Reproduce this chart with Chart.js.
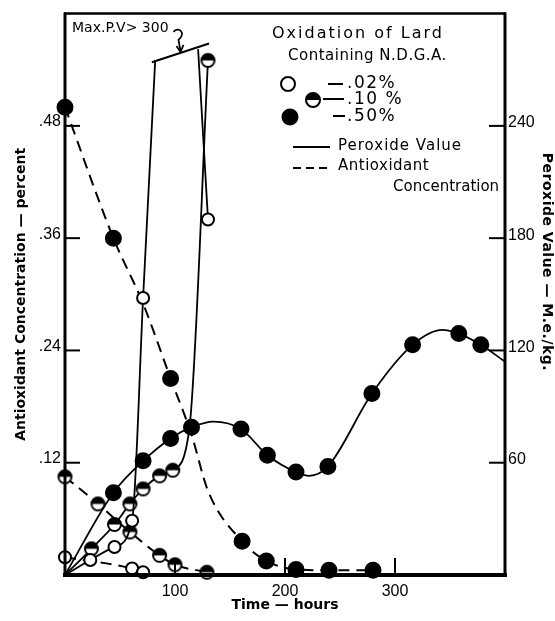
<!DOCTYPE html>
<html>
<head>
<meta charset="utf-8">
<script src="https://cdn.jsdelivr.net/npm/chart.js@4.4.1/dist/chart.umd.min.js"></script>
<style>
  html, body { margin: 0; padding: 0; background: #fff; }
</style>
</head>
<body>
<canvas id="lardChart" width="555" height="621"></canvas>
<script>
// tick labels
var xTicks = [100, 200, 300];
var aoTicks = [0.12, 0.24, 0.36, 0.48];
var pvTicks = [60, 120, 180, 240];

// Peroxide value (M.e./kg) - solid lines. marked = drawn with a circle
var pv02Hours = [0, 23, 45, 61, 71, 82, 100, 121, 130];
var pv02Values = [0, 8, 15, 29, 148, 275, null, 281, 190];
var pv02Marked = [0, 1, 1, 1, 1, 0, 0, 0, 1];

var pv10Hours = [0, 24, 45, 59, 71, 86, 98, 113, 130];
var pv10Values = [0, 14, 27, 38, 46, 53, 56, 78, 275];
var pv10Marked = [0, 1, 1, 1, 1, 1, 1, 0, 1];

var pv50Hours = [0, 44, 71, 96, 115, 135, 160, 184, 210, 222, 239, 279, 316, 343, 358, 378, 400];
var pv50Values = [0, 44, 61, 73, 79, 82, 78, 64, 55, 53, 58, 97, 123, 131, 129, 123, 114];
var pv50Marked = [0, 1, 1, 1, 1, 0, 1, 1, 1, 0, 1, 1, 1, 0, 1, 1, 0];

// Antioxidant concentration (percent) - dashed lines
var ao02Hours = [0, 61, 71];
var ao02Values = [0.019, 0.007, 0.003];
var ao02Marked = [1, 1, 1];

var ao10Hours = [0, 30, 59, 86, 100, 129];
var ao10Values = [0.105, 0.076, 0.046, 0.021, 0.011, 0.003];
var ao10Marked = [1, 1, 1, 1, 1, 1];

var ao50Hours = [0, 44, 71, 96, 115, 130, 161, 183, 210, 240, 280];
var ao50Values = [0.50, 0.36, 0.29, 0.21, 0.15, 0.09, 0.036, 0.015, 0.006, 0.005, 0.005];
var ao50Marked = [1, 1, 0, 1, 0, 0, 1, 1, 1, 1, 1];

// "Max P.V > 300" break line
var breakHours = [79, 131];
var breakValues = [274, 284];

function drawMark(ctx, kind, cx, cy, r) {
  ctx.save();
  ctx.lineWidth = 2;
  ctx.strokeStyle = '#000';
  ctx.fillStyle = kind === 'filled' ? '#000' : '#fff';
  ctx.beginPath();
  ctx.arc(cx, cy, r, 0, Math.PI * 2);
  ctx.fill();
  ctx.stroke();
  if (kind === 'half') {
    ctx.beginPath();
    ctx.arc(cx, cy, r, Math.PI, 0);
    ctx.closePath();
    ctx.fillStyle = '#000';
    ctx.fill();
  }
  ctx.restore();
}

function halfMark(r) {
  var c = document.createElement('canvas');
  var s = Math.ceil(r * 2 + 4);
  c.width = s;
  c.height = s;
  drawMark(c.getContext('2d'), 'half', s / 2, s / 2, r);
  return c;
}
var halfStyle = halfMark(6.5);

function series(hours, values, marked, axis, kind, dashed) {
  return {
    data: hours.map(function(h, i) { return {x: h, y: values[i]}; }),
    yAxisID: axis,
    borderColor: '#000',
    borderWidth: dashed ? 2 : 1.8,
    borderDash: dashed ? [11, 7] : [],
    fill: false,
    cubicInterpolationMode: 'monotone',
    spanGaps: false,
    clip: false,
    pointStyle: kind === 'half' ? halfStyle : 'circle',
    pointRadius: function(c) { return marked[c.dataIndex] ? (kind === 'filled' ? 7.5 : 6) : 0; },
    pointBackgroundColor: kind === 'filled' ? '#000' : '#fff',
    pointBorderColor: '#000',
    pointBorderWidth: 2
  };
}

function fixedTicks(list) {
  return function(scale) {
    scale.ticks = list.map(function(v) { return {value: v}; });
  };
}

var notes = {
  id: 'notes',
  afterDatasetsDraw: function(chart) {
    var ctx = chart.ctx, a = chart.chartArea;
    var x = chart.scales.x, ao = chart.scales.ao;
    ctx.save();
    ctx.strokeStyle = '#000';
    ctx.lineCap = 'butt';
    function seg(x1, y1, x2, y2, w) {
      ctx.lineWidth = w;
      ctx.beginPath(); ctx.moveTo(x1, y1); ctx.lineTo(x2, y2); ctx.stroke();
    }
    // frame
    seg(a.left, a.top - 1, a.left, a.bottom + 2, 3);
    seg(a.right, a.top - 1, a.right, a.bottom + 2, 3);
    seg(a.left - 1, a.top, a.right + 1, a.top, 2.5);
    seg(a.left - 2, a.bottom, a.right + 2, a.bottom, 4);
    // inward ticks
    aoTicks.forEach(function(v) {
      var y = ao.getPixelForValue(v);
      seg(a.left, y, a.left + 15, y, 2);
    });
    var pv = chart.scales.pv;
    pvTicks.forEach(function(v) {
      var y = pv.getPixelForValue(v);
      seg(a.right - 16, y, a.right, y, 2);
    });
    xTicks.forEach(function(v) {
      var px = x.getPixelForValue(v);
      seg(px, a.bottom, px, a.bottom - 17, 2);
    });
    ctx.restore();
  },
  afterDraw: function(chart) {
    var ctx = chart.ctx;
    var x = chart.scales.x, pv = chart.scales.pv;
    ctx.save();
    ctx.fillStyle = '#000';
    ctx.strokeStyle = '#000';
    ctx.textBaseline = 'middle';
    ctx.textAlign = 'left';
    function text(s, tx, ty, font, spacing) {
      ctx.font = font;
      ctx.letterSpacing = spacing || '0px';
      ctx.fillText(s, tx, ty);
    }
    function seg(x1, y1, x2, y2, w, dash) {
      ctx.lineWidth = w;
      ctx.setLineDash(dash || []);
      ctx.beginPath(); ctx.moveTo(x1, y1); ctx.lineTo(x2, y2); ctx.stroke();
      ctx.setLineDash([]);
    }
    var f = '"DejaVu Sans", sans-serif';

    // legend
    text('Oxidation of Lard', 272, 34, '16px ' + f, '2px');
    text('Containing N.D.G.A.', 288, 56, '15px ' + f, '0.5px');
    drawMark(ctx, 'open', 288, 84, 7);
    drawMark(ctx, 'half', 313, 100, 7);
    drawMark(ctx, 'filled', 290, 117, 7.5);
    seg(328, 84, 343, 84, 2);
    seg(323, 99, 344, 99, 2);
    seg(333, 116, 345, 116, 2);
    text('.02%', 347, 84, '17px ' + f, '1.5px');
    text('.10 %', 347, 100, '17px ' + f, '1.5px');
    text('.50%', 347, 117, '17px ' + f, '1.5px');
    seg(293, 147, 330, 147, 2);
    text('Peroxide Value', 338, 146, '15px ' + f, '1px');
    seg(293, 168, 330, 168, 2, [8, 5]);
    text('Antioxidant', 338, 166, '15px ' + f, '0.5px');
    text('Concentration', 393, 187, '15px ' + f, '0px');

    // right axis title
    ctx.save();
    ctx.translate(547, 262);
    ctx.rotate(Math.PI / 2);
    ctx.textAlign = 'center';
    text('Peroxide Value \u2014 M.e./kg.', 0, 0, 'bold 14px ' + f, '0.5px');
    ctx.restore();

    // max P.V. note with arrow to the break line
    text('Max.P.V> 300', 72, 28, '14px ' + f, '0px');
    var bx0 = x.getPixelForValue(breakHours[0]), by0 = pv.getPixelForValue(breakValues[0]);
    var bx1 = x.getPixelForValue(breakHours[1]), by1 = pv.getPixelForValue(breakValues[1]);
    var mx = x.getPixelForValue(105);
    var my = by0 + (by1 - by0) * (mx - bx0) / (bx1 - bx0);
    ctx.lineWidth = 1.8;
    ctx.beginPath();
    ctx.moveTo(mx - 7, my - 21);
    ctx.bezierCurveTo(mx - 2, my - 27, mx + 6, my - 20, mx - 2, my - 13);
    ctx.lineTo(mx, my - 2);
    ctx.stroke();
    ctx.beginPath();
    ctx.moveTo(mx - 4, my - 7);
    ctx.lineTo(mx, my - 1);
    ctx.lineTo(mx + 3, my - 8);
    ctx.stroke();
    ctx.restore();
  }
};

var tickFont = {family: '"Liberation Sans", sans-serif', size: 16};
var titleFont = {family: '"DejaVu Sans", sans-serif', size: 14, weight: 'bold'};

var myChart = new Chart(document.getElementById('lardChart').getContext('2d'), {
  type: 'line',
  data: {
    datasets: [
      series(pv02Hours, pv02Values, pv02Marked, 'pv', 'open', false),
      series(pv10Hours, pv10Values, pv10Marked, 'pv', 'half', false),
      series(pv50Hours, pv50Values, pv50Marked, 'pv', 'filled', false),
      series(ao02Hours, ao02Values, ao02Marked, 'ao', 'open', true),
      series(ao10Hours, ao10Values, ao10Marked, 'ao', 'half', true),
      series(ao50Hours, ao50Values, ao50Marked, 'ao', 'filled', true),
      {
        data: breakHours.map(function(h, i) { return {x: h, y: breakValues[i]}; }),
        yAxisID: 'pv',
        borderColor: '#000',
        borderWidth: 2,
        pointRadius: 0,
        tension: 0
      }
    ]
  },
  options: {
    responsive: false,
    animation: false,
    events: [],
    layout: {padding: {top: 12, left: 0, right: 0, bottom: 0}},
    plugins: {legend: {display: false}, tooltip: {enabled: false}},
    scales: {
      x: {
        type: 'linear',
        min: 0,
        max: 400,
        grid: {display: false, drawTicks: false},
        border: {display: false},
        afterBuildTicks: fixedTicks(xTicks),
        afterFit: function(s) { s.height = 46; },
        ticks: {font: tickFont, color: '#000', padding: 7, callback: function(v) { return String(v); }},
        title: {display: true, text: 'Time \u2014 hours', font: titleFont, color: '#000', padding: {top: 0, bottom: 7}}
      },
      ao: {
        type: 'linear',
        position: 'left',
        min: 0,
        max: 0.6,
        grid: {display: false, drawTicks: false},
        border: {display: false},
        afterBuildTicks: fixedTicks(aoTicks),
        afterFit: function(s) { s.width = 65; },
        ticks: {font: tickFont, color: '#000', padding: 4, labelOffset: -4,
          callback: function(v) { return v.toFixed(2).replace(/^0/, ''); }},
        title: {display: true, text: 'Antioxidant Concentration \u2014 percent', font: titleFont, color: '#000', padding: {top: 13, bottom: 0}}
      },
      pv: {
        type: 'linear',
        position: 'right',
        min: 0,
        max: 300,
        grid: {display: false, drawTicks: false},
        border: {display: false},
        afterBuildTicks: fixedTicks(pvTicks),
        afterFit: function(s) { s.width = 50; },
        ticks: {font: tickFont, color: '#000', padding: 3, labelOffset: -3,
          callback: function(v) { return String(v); }}
      }
    }
  },
  plugins: [notes]
});
</script>
</body>
</html>
